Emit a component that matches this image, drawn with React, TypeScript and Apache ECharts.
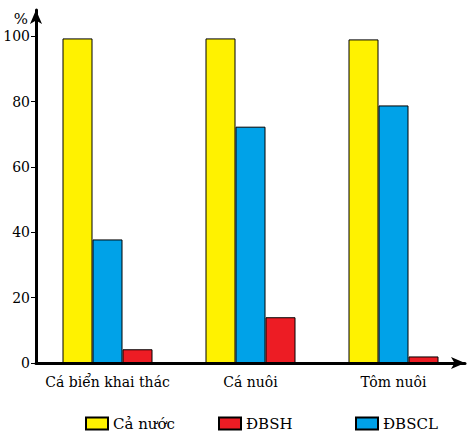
import React, { useEffect, useRef } from 'react';
import * as echarts from 'echarts';

// dữ liệu (%)
const categories = ['Cá biển khai thác', 'Cá nuôi', 'Tôm nuôi'];
const caNuoc = [99.3, 99.3, 99];
const dbscl = [37.8, 72.3, 78.8];
const dbsh = [4.2, 14, 2];
const yTicks = [0, 20, 40, 60, 80, 100];

const FONT = 'DejaVu Serif';

const App: React.FC = () => {
  const chartRef = useRef<HTMLDivElement>(null);

  useEffect(() => {
    if (!chartRef.current) return;
    const myChart = echarts.init(chartRef.current, undefined, { renderer: 'svg' });

    const barBase = {
      type: 'bar' as const,
      barWidth: 30,
      barGap: '0%',
      itemStyle: { borderColor: '#000', borderWidth: 1 },
    };

    const legendBase = {
      top: 411,
      icon: 'rect',
      itemWidth: 22,
      itemHeight: 12,
      itemGap: 8,
      textStyle: { fontFamily: FONT, fontSize: 15, color: '#000' },
      selectedMode: false as const,
    };

    const option: echarts.EChartsOption = {
      animation: false,
      backgroundColor: '#fff',
      textStyle: { fontFamily: FONT },
      grid: { left: 36, right: 5, top: 10, bottom: 78, outerBoundsMode: 'none' } as any,
      legend: [
        { ...legendBase, left: 80, data: ['Cả nước'] },
        { ...legendBase, left: 213, data: ['ĐBSH'] },
        { ...legendBase, left: 350, data: ['ĐBSCL'] },
      ],
      xAxis: {
        type: 'category',
        data: categories,
        axisLine: {
          lineStyle: { color: '#000', width: 3 },
          symbol: ['none', 'arrow'],
          symbolSize: [9, 14],
        },
        axisTick: { alignWithLabel: true, length: 5, lineStyle: { color: '#000', width: 1 } },
        axisLabel: { fontFamily: FONT, fontSize: 14, color: '#000', margin: 12, interval: 0 },
      },
      yAxis: {
        type: 'value',
        min: 0,
        max: 108,
        name: '%',
        nameLocation: 'end',
        nameGap: -16,
        nameTextStyle: { fontFamily: FONT, fontSize: 15, color: '#000', align: 'right', padding: [0, 8, 0, 0] },
        axisLine: {
          show: true,
          lineStyle: { color: '#000', width: 3 },
          symbol: ['none', 'arrow'],
          symbolSize: [9, 14],
        },
        axisTick: { show: true, length: 5, customValues: yTicks, lineStyle: { color: '#000', width: 1 } },
        axisLabel: { fontFamily: FONT, fontSize: 14, color: '#000', margin: 6, customValues: yTicks },
        splitLine: { show: false },
      },
      series: [
        { ...barBase, name: 'Cả nước', data: caNuoc, itemStyle: { ...barBase.itemStyle, color: '#FFF200' } },
        { ...barBase, name: 'ĐBSCL', data: dbscl, itemStyle: { ...barBase.itemStyle, color: '#00A2E8' } },
        { ...barBase, name: 'ĐBSH', data: dbsh, itemStyle: { ...barBase.itemStyle, color: '#ED1C24' } },
      ],
    };

    myChart.setOption(option);

    return () => {
      myChart.dispose();
    };
  }, []);

  return (
    <div
      ref={chartRef}
      style={{ position: 'fixed', left: 0, top: 0, width: 470, height: 441, background: '#fff' }}
    />
  );
};

export default App;
